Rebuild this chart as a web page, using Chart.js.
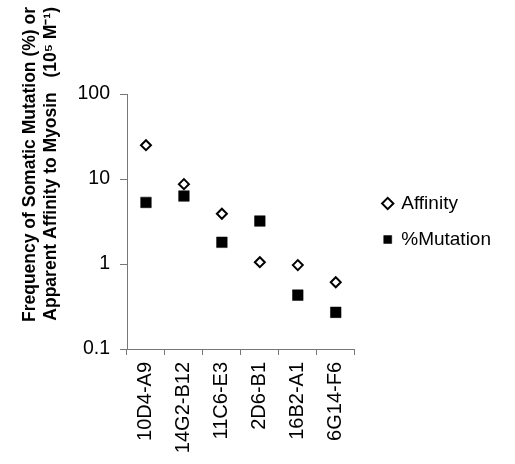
<!DOCTYPE html>
<html>
<head>
<meta charset="utf-8">
<script src="https://cdn.jsdelivr.net/npm/chart.js@4"></script>
<style>
  body { margin: 0; background: #fff; }
  #wrap { width: 515px; height: 464px; }
</style>
</head>
<body>
<div id="wrap"><canvas id="mutationChart" width="515" height="464"></canvas></div>
<script>
const clones = ['10D4-A9', '14G2-B12', '11C6-E3', '2D6-B1', '16B2-A1', '6G14-F6'];
const affinity = [25, 8.7, 3.9, 1.05, 0.97, 0.61];
const mutation = [5.3, 6.3, 1.8, 3.2, 0.43, 0.27];
const yTicks = [0.1, 1, 10, 100];

const fontFamily = '"Liberation Sans", Arial, sans-serif';
const axisColor = '#777';

// invisible spacer scale, only used to push the plot area around
function spacer(position, size) {
    return {
        type: 'linear',
        position: position,
        display: true,
        grid: { display: false },
        border: { display: false },
        ticks: { display: false },
        afterFit: function(scale) {
            if (scale.isHorizontal()) {
                scale.height = size;
            } else {
                scale.width = size;
            }
        }
    };
}

const ctx = document.getElementById('mutationChart').getContext('2d');

const mutationChart = new Chart(ctx, {
    type: 'line',
    data: {
        labels: clones,
        datasets: [
            {
                label: 'Affinity',
                data: affinity,
                showLine: false,
                pointStyle: 'rectRot',
                pointRadius: 5,
                pointBackgroundColor: '#fff',
                pointBorderColor: '#000',
                pointBorderWidth: 2,
                backgroundColor: '#fff',
                borderColor: '#000',
                borderWidth: 2
            },
            {
                label: '%Mutation',
                data: mutation,
                showLine: false,
                pointStyle: 'rect',
                pointRadius: 7.5,
                pointBackgroundColor: '#000',
                pointBorderColor: '#000',
                pointBorderWidth: 0.5,
                backgroundColor: '#000',
                borderColor: '#000',
                borderWidth: 0.5
            }
        ]
    },
    options: {
        responsive: false,
        animation: false,
        layout: {
            padding: { left: 0, top: 7, right: 14, bottom: 0 }
        },
        plugins: {
            title: {
                display: true,
                position: 'left',
                align: 'end',
                text: ['Frequency of Somatic Mutation (%) or', 'Apparent Affinity to Myosin   (10\u2075 M\u207B\u00B9)'],
                color: '#000',
                font: { family: fontFamily, size: 17.5, weight: 'bold', lineHeight: 1.2 },
                padding: { top: 19.5, bottom: 0 }
            },
            legend: {
                position: 'right',
                fullSize: false,
                maxWidth: 170,
                labels: {
                    usePointStyle: true,
                    boxWidth: 8,
                    boxHeight: 8,
                    padding: 17,
                    color: '#000',
                    font: { family: fontFamily, size: 19 }
                }
            },
            tooltip: { enabled: false }
        },
        scales: {
            x: {
                type: 'category',
                offset: true,
                grid: { offset: true, drawOnChartArea: false, tickLength: 6, color: axisColor },
                border: { color: axisColor },
                ticks: {
                    minRotation: 90,
                    maxRotation: 90,
                    padding: 7,
                    color: '#000',
                    font: { family: fontFamily, size: 20 }
                },
                afterFit: function(scale) {
                    scale.height = 115;
                }
            },
            y: {
                type: 'logarithmic',
                min: 0.1,
                max: 100,
                afterBuildTicks: function(scale) {
                    scale.ticks = yTicks.map(v => ({ value: v }));
                },
                grid: { drawOnChartArea: false, tickLength: 7, color: axisColor },
                border: { color: axisColor },
                ticks: {
                    padding: 10,
                    color: '#000',
                    font: { family: fontFamily, size: 19.5 },
                    callback: function(value) {
                        return String(value);
                    }
                },
                afterFit: function(scale) {
                    scale.width = 65.5;
                }
            },
            topSpace: spacer('top', 87),
            rightGap: spacer('right', 12)
        }
    }
});
</script>
</body>
</html>
